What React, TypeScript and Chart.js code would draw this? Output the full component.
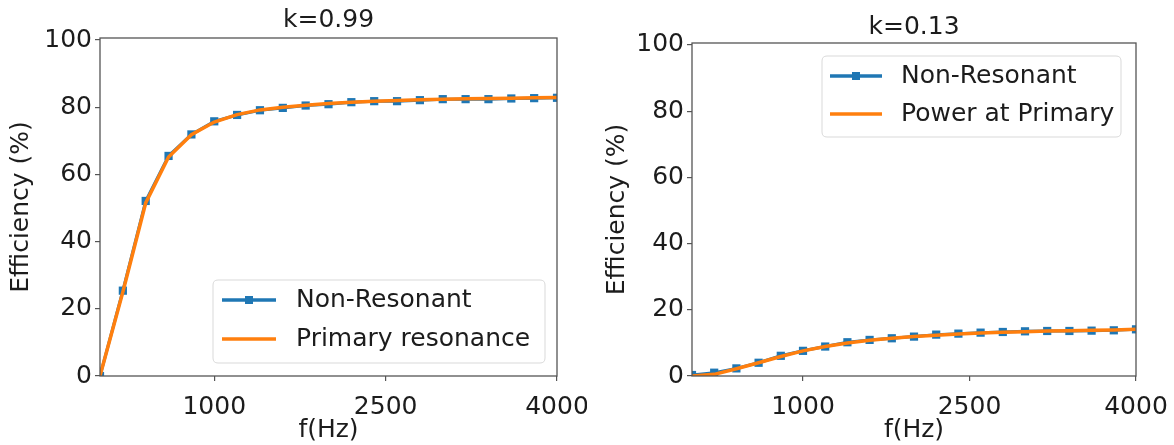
import React, { useEffect, useRef } from "react";
import { Chart, registerables } from "chart.js";

Chart.register(...registerables);

// ---------------- DATA ----------------
const FREQ_HZ = [0, 200, 400, 600, 800, 1000, 1200, 1400, 1600, 1800, 2000, 2200, 2400, 2600, 2800, 3000, 3200, 3400, 3600, 3800, 4000];
const X_TICKS = [1000, 2500, 4000];
const Y_TICKS = [0, 20, 40, 60, 80, 100];
const X_MIN = 0;
const X_MAX = 4000;
const Y_MIN = 0;
const Y_MAX = 100.6;

const LEFT_TITLE = "k=0.99";
const LEFT_LABELS = ["Non-Resonant", "Primary resonance"];
const LEFT_NON_RESONANT = [0, 25.4, 52.1, 65.5, 71.9, 75.8, 77.7, 79.1, 79.8, 80.5, 80.9, 81.5, 81.8, 81.8, 82.1, 82.4, 82.4, 82.4, 82.6, 82.7, 82.8];
const LEFT_PRIMARY = [0, 25.0, 51.5, 65.2, 71.8, 75.6, 77.8, 79.2, 80.0, 80.6, 81.1, 81.5, 81.8, 82.0, 82.2, 82.4, 82.5, 82.6, 82.7, 82.8, 82.9];

const RIGHT_TITLE = "k=0.13";
const RIGHT_LABELS = ["Non-Resonant", "Power at Primary"];
const RIGHT_NON_RESONANT = [0.3, 1.0, 2.3, 4.0, 6.1, 7.6, 8.9, 10.2, 10.9, 11.4, 11.9, 12.5, 12.8, 13.1, 13.3, 13.5, 13.6, 13.6, 13.7, 13.8, 14.1];
const RIGHT_POWER_PRIMARY = [0, 0.5, 2.2, 4.0, 5.9, 7.6, 8.9, 10.0, 10.8, 11.4, 11.9, 12.3, 12.7, 13.0, 13.2, 13.4, 13.6, 13.7, 13.8, 13.9, 14.1];

const X_TITLE = "f(Hz)";
const Y_TITLE = "Efficiency (%)";

// ---------------- STYLE ----------------
const BLUE = "#1f77b4";
const ORANGE = "#ff7f0e";
const TEXT = "#1c1c1c";
const FRAME = "#555555";
const FONT = '"DejaVu Sans", "Liberation Sans", sans-serif';
const FONT_SIZE = 25;
const H = 445;
const W = 587;

type Layout = {
  left: number; right: number; top: number; bottom: number;
  titleY: number; yTitlePad: number;
  legend: { x0: number; x1: number; y0: number; y1: number; lx0: number; lx1: number; ly: number[]; tx: number };
};

const LEFT_LAYOUT: Layout = {
  left: 100, right: 557, top: 38, bottom: 376, titleY: 20, yTitlePad: 6,
  legend: { x0: 213, x1: 545, y0: 280, y1: 363, lx0: 222, lx1: 276, ly: [300, 339], tx: 296 },
};
const RIGHT_LAYOUT: Layout = {
  left: 105, right: 549, top: 43, bottom: 376, titleY: 27, yTitlePad: 15,
  legend: { x0: 235, x1: 534, y0: 56, y1: 137, lx0: 243, lx1: 295, ly: [76, 114], tx: 314 },
};

function roundRect(ctx: CanvasRenderingContext2D, x: number, y: number, w: number, h: number, r: number) {
  ctx.beginPath();
  ctx.moveTo(x + r, y);
  ctx.lineTo(x + w - r, y);
  ctx.quadraticCurveTo(x + w, y, x + w, y + r);
  ctx.lineTo(x + w, y + h - r);
  ctx.quadraticCurveTo(x + w, y + h, x + w - r, y + h);
  ctx.lineTo(x + r, y + h);
  ctx.quadraticCurveTo(x, y + h, x, y + h - r);
  ctx.lineTo(x, y + r);
  ctx.quadraticCurveTo(x, y, x + r, y);
  ctx.closePath();
}

function makeOverlay(title: string, labels: string[], L: Layout) {
  return {
    id: "overlay",
    afterDatasetsDraw(chart: any) {
      const { ctx, chartArea: a } = chart;
      ctx.save();
      // frame
      ctx.strokeStyle = FRAME;
      ctx.lineWidth = 1.3;
      ctx.strokeRect(a.left, a.top, a.right - a.left, a.bottom - a.top);
      // title
      ctx.font = `${FONT_SIZE}px ${FONT}`;
      ctx.fillStyle = TEXT;
      ctx.textAlign = "center";
      ctx.textBaseline = "middle";
      ctx.fillText(title, (a.left + a.right) / 2, L.titleY);
      // legend
      const g = L.legend;
      roundRect(ctx, g.x0, g.y0, g.x1 - g.x0, g.y1 - g.y0, 5);
      ctx.fillStyle = "rgba(255,255,255,0.8)";
      ctx.fill();
      ctx.strokeStyle = "#d9d9d9";
      ctx.lineWidth = 1;
      ctx.stroke();
      const colors = [BLUE, ORANGE];
      labels.forEach((lab, i) => {
        const y = g.ly[i];
        ctx.strokeStyle = colors[i];
        ctx.lineWidth = 3.5;
        ctx.beginPath();
        ctx.moveTo(g.lx0, y);
        ctx.lineTo(g.lx1, y);
        ctx.stroke();
        if (i === 0) {
          ctx.fillStyle = BLUE;
          const cx = (g.lx0 + g.lx1) / 2;
          ctx.fillRect(cx - 4, y - 4, 8, 8);
        }
        ctx.fillStyle = TEXT;
        ctx.textAlign = "left";
        ctx.textBaseline = "middle";
        ctx.fillText(lab, g.tx, y);
      });
      ctx.restore();
    },
  };
}

function buildChart(canvas: HTMLCanvasElement, title: string, labels: string[], blue: number[], orange: number[], L: Layout) {
  const font = { family: FONT, size: FONT_SIZE };
  return new Chart(canvas, {
    type: "line",
    data: {
      datasets: [
        {
          label: labels[1],
          data: FREQ_HZ.map((x, i) => ({ x, y: orange[i] })),
          borderColor: ORANGE,
          borderWidth: 3.5,
          pointRadius: 0,
          tension: 0,
          order: 0,
          clip: 0,
        },
        {
          label: labels[0],
          data: FREQ_HZ.map((x, i) => ({ x, y: blue[i] })),
          borderColor: BLUE,
          backgroundColor: BLUE,
          borderWidth: 3,
          pointStyle: "rect",
          pointRadius: 5.8,
          pointBorderWidth: 0,
          pointBackgroundColor: BLUE,
          tension: 0,
          order: 1,
          clip: 0,
        },
      ],
    } as any,
    options: {
      responsive: false,
      animation: false,
      devicePixelRatio: 1,
      layout: { padding: { left: 0, top: L.top, right: W - L.right, bottom: 0 } },
      plugins: { legend: { display: false }, tooltip: { enabled: false }, title: { display: false } },
      scales: {
        x: {
          type: "linear",
          min: X_MIN,
          max: X_MAX,
          border: { display: false },
          grid: { display: true, drawOnChartArea: false, drawTicks: true, tickLength: 5, tickColor: FRAME, lineWidth: 1.2 },
          ticks: { font, color: TEXT, padding: 11, maxRotation: 0, callback: (v: any) => String(v) },
          afterBuildTicks: (s: any) => { s.ticks = X_TICKS.map((value) => ({ value })); },
          afterFit: (s: any) => { s.height = H - L.bottom; s.paddingLeft = 0; s.paddingRight = 0; },
          title: { display: true, text: X_TITLE, font, color: TEXT, padding: { top: 2, bottom: 0 } },
        },
        y: {
          type: "linear",
          min: Y_MIN,
          max: Y_MAX,
          border: { display: false },
          grid: { display: true, drawOnChartArea: false, drawTicks: true, tickLength: 5, tickColor: FRAME, lineWidth: 1.2 },
          ticks: { font, color: TEXT, padding: 3, callback: (v: any) => String(v) },
          afterBuildTicks: (s: any) => { s.ticks = Y_TICKS.map((value) => ({ value })); },
          afterFit: (s: any) => { s.width = L.left; s.paddingTop = 0; s.paddingBottom = 0; },
          title: { display: true, text: Y_TITLE, font, color: TEXT, padding: { top: L.yTitlePad, bottom: 0 } },
        },
      },
    } as any,
    plugins: [makeOverlay(title, labels, L)],
  });
}

function Panel(props: { title: string; labels: string[]; blue: number[]; orange: number[]; layout: Layout; x: number }) {
  const ref = useRef<HTMLCanvasElement>(null);
  useEffect(() => {
    if (!ref.current) return;
    const c = buildChart(ref.current, props.title, props.labels, props.blue, props.orange, props.layout);
    return () => c.destroy();
  }, []);
  return (
    <div style={{ position: "absolute", left: props.x, top: 0, width: W, height: H }}>
      <canvas ref={ref} width={W} height={H} style={{ width: W, height: H, display: "block" }} />
    </div>
  );
}

export default function App() {
  return (
    <div style={{ position: "absolute", left: 0, top: 0, width: 1174, height: H, background: "#fff", overflow: "hidden" }}>
      <Panel title={LEFT_TITLE} labels={LEFT_LABELS} blue={LEFT_NON_RESONANT} orange={LEFT_PRIMARY} layout={LEFT_LAYOUT} x={0} />
      <Panel title={RIGHT_TITLE} labels={RIGHT_LABELS} blue={RIGHT_NON_RESONANT} orange={RIGHT_POWER_PRIMARY} layout={RIGHT_LAYOUT} x={587} />
    </div>
  );
}
